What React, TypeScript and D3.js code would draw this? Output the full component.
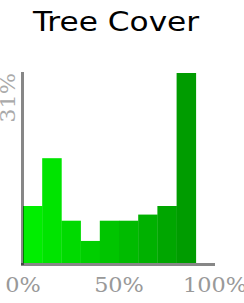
import React from 'react';
import * as d3 from 'd3';

const binStarts = [0, 10, 20, 30, 40, 50, 60, 70, 80, 90];
const binShares = [9.3, 17.1, 6.9, 3.6, 6.9, 6.9, 7.9, 9.3, 31, 0];
const tickValues = [0, 50, 100];
const maxLabel = '31%';
const title = 'Tree Cover';

const W = 244;
const H = 303;

export default function App() {
  const x = d3.scaleLinear().domain([0, 100]).range([23, 215]);
  const y = d3.scaleLinear().domain([0, 31]).range([263, 73]);
  // bright green on the left, darker to the right
  const color = d3.scaleLinear<string>()
    .domain([0, 80])
    .range(['#00ee00', '#009c00'])
    .interpolate(d3.interpolateRgb);

  return (
    <svg width={W} height={H} style={{ position: 'absolute', left: 0, top: 0, background: '#fff' }}>
      <text
        transform={`translate(116,31) scale(1.2,1)`}
        textAnchor="middle"
        fontFamily="DejaVu Sans"
        fontSize={26}
        fill="#000"
      >
        {title}
      </text>

      {binStarts.map((b, i) => (
        <rect
          key={b}
          x={x(b)}
          y={y(binShares[i])}
          width={x(b + 10) - x(b) + 0.3}
          height={y(0) - y(binShares[i])}
          fill={color(b)}
        />
      ))}

      <line x1={22.5} x2={22.5} y1={72} y2={265} stroke="rgba(0,0,0,0.47)" strokeWidth={3} />
      <line x1={21} x2={215} y1={264.5} y2={264.5} stroke="rgba(0,0,0,0.47)" strokeWidth={3} />

      <text
        transform={`translate(15,73) rotate(-90) scale(1.12,1)`}
        textAnchor="end"
        fontFamily="DejaVu Serif"
        fontSize={20}
        fill="#aaa"
      >
        {maxLabel}
      </text>

      {tickValues.map((t) => (
        <text
          key={t}
          transform={`translate(${x(t)},292) scale(1.12,1)`}
          textAnchor="middle"
          fontFamily="DejaVu Serif"
          fontSize={20}
          fill="#999"
        >
          {`${t}%`}
        </text>
      ))}
    </svg>
  );
}
